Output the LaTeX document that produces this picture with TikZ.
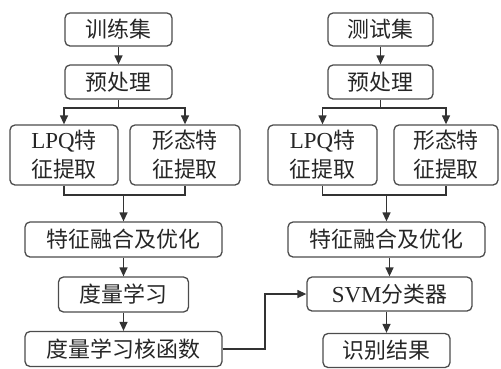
\documentclass[tikz,border=0pt]{standalone}
\usepackage{fontspec}
\setmainfont{Liberation Serif}
\newfontfamily\cjk{Noto Sans CJK SC}
\usetikzlibrary{arrows.meta,calc}
\tikzset{
  box/.style={draw=black!70, line width=1.3bp, rounded corners=5bp, inner sep=0pt, align=center,
    font=\cjk\fontsize{22}{29}\selectfont, text=black!85},
  arr/.style={line width=1.3bp, draw=black!80, -{Triangle[length=9bp,width=8bp]}},
  ln/.style={line width=1.3bp, draw=black!80}
}
\newcommand{\lat}[1]{{\rmfamily\fontsize{23}{29}\selectfont #1}}
\begin{document}
\begin{tikzpicture}[x=1bp,y=-1bp]
\useasboundingbox (0,0) rectangle (501,368);
% left column
\node[box, minimum width=107bp, minimum height=33bp] (t1) at (118.5,29.5) {训练集};
\node[box, minimum width=107bp, minimum height=34bp] (t2) at (118.5,82) {预处理};
\node[box, minimum width=108bp, minimum height=60bp] (t3) at (64,155) {\lat{LPQ}特\\征提取};
\node[box, minimum width=110bp, minimum height=60bp] (t4) at (185,155) {形态特\\征提取};
\node[box, minimum width=197bp, minimum height=35bp] (t5) at (123.5,239.5) {特征融合及优化};
\node[box, minimum width=130bp, minimum height=35bp] (t6) at (123.5,294.5) {度量学习};
\node[box, minimum width=197bp, minimum height=35bp] (t7) at (123.5,349) {度量学习核函数};
% right column
\node[box, minimum width=105bp, minimum height=33bp] (s1) at (380.5,29.5) {测试集};
\node[box, minimum width=105bp, minimum height=34bp] (s2) at (380.5,82) {预处理};
\node[box, minimum width=109bp, minimum height=60bp] (s3) at (322.5,155) {\lat{LPQ}特\\征提取};
\node[box, minimum width=104bp, minimum height=60bp] (s4) at (446,155) {形态特\\征提取};
\node[box, minimum width=197bp, minimum height=35bp] (s5) at (386.5,239.5) {特征融合及优化};
\node[box, minimum width=165bp, minimum height=34bp] (s6) at (389.5,294) {\lat{SVM}分类器};
\node[box, minimum width=127bp, minimum height=34bp] (s7) at (386.5,350.5) {识别结果};
% helper coordinates
\coordinate (tb) at (118.5,108);
\coordinate (tm) at (123.5,195);
\coordinate (sb) at (380.5,108);
\coordinate (sm) at (386.5,195);
\coordinate (cx) at (265,0);
% left connectors
\draw[arr] (t1) -- (t2);
\draw[ln] (t2.south) -- (tb);
\draw[arr] (tb) -| (t3.north);
\draw[arr] (tb) -| (t4.north);
\draw[ln] (t3.south) |- (tm) -| (t4.south);
\draw[arr] (tm) -- (t5.north);
\draw[arr] (t5) -- (t6);
\draw[arr] (t6) -- (t7);
% right connectors
\draw[arr] (s1) -- (s2);
\draw[ln] (s2.south) -- (sb);
\draw[arr] (sb) -| (s3.north);
\draw[arr] (sb) -| (s4.north);
\draw[ln] (s3.south) |- (sm) -| (s4.south);
\draw[arr] (sm) -- (s5.north -| sm);
\draw[arr] (s5.south -| s6) -- (s6.north);
\draw[arr] (s6.south -| s7) -- (s7.north);
% cross connector
\draw[arr] (t7.east) -- (t7.east -| cx) |- (s6.west);
\end{tikzpicture}
\end{document}
